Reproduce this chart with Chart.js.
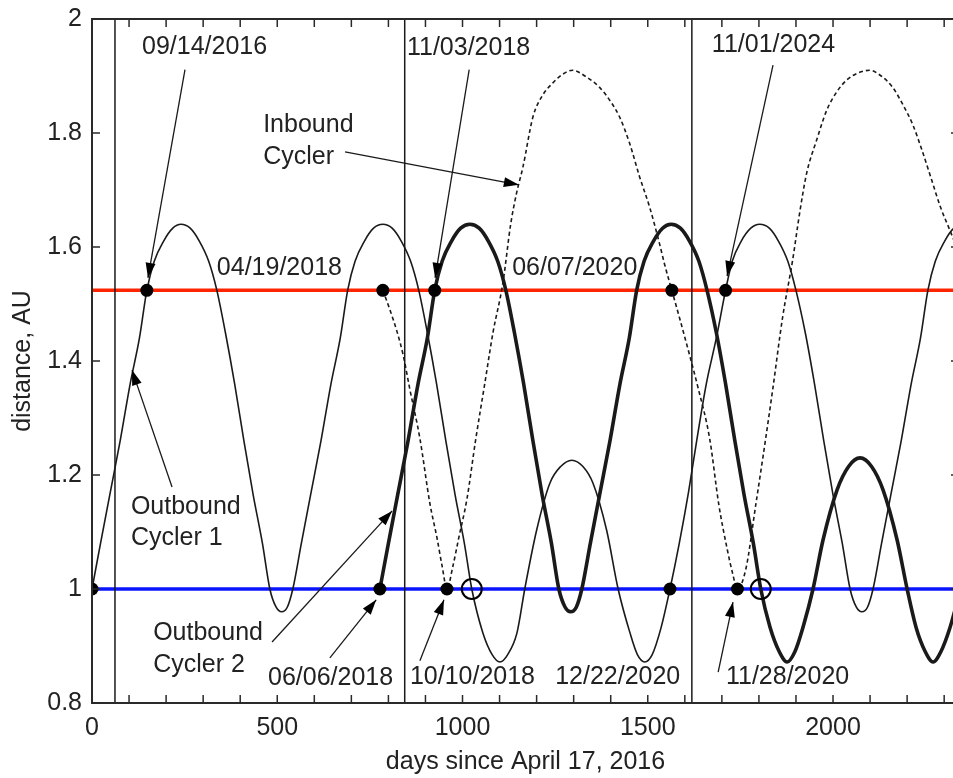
<!DOCTYPE html>
<html>
<head>
<title>Cycler distances</title>
<script src="https://cdn.jsdelivr.net/npm/chart.js"></script>
<style>
  html, body { margin: 0; padding: 0; background: #fff; overflow: hidden; width: 953px; height: 778px; }
  #wrap { width: 953px; height: 778px; overflow: hidden; position: relative; }
  #c { position: absolute; left: 0; top: 0; }
</style>
</head>
<body>
<div id="wrap"><canvas id="c" width="960" height="778"></canvas></div>
<script>
// --- values (days since 2016-04-17, distance in AU) ---
const thinDays = [0, 23, 48, 76, 103, 128, 148, 168, 193, 218, 240, 265, 290, 315, 337, 360, 385, 410, 435, 460, 480, 497, 512, 527, 542, 565, 590, 618, 645, 670, 690, 710, 735, 760, 785, 810, 835, 860, 882, 905, 930, 955, 980, 1005, 1025, 1055, 1080, 1101, 1122, 1147, 1168, 1200, 1236, 1265, 1295, 1325, 1352, 1389, 1420, 1452, 1472, 1492, 1512, 1535, 1560, 1585, 1610, 1632, 1658, 1685, 1710, 1728, 1752, 1778, 1802, 1828, 1853, 1878, 1900, 1925, 1950, 1975, 2000, 2025, 2046, 2063, 2078, 2093, 2108, 2131, 2156, 2184, 2211, 2236, 2256, 2276, 2301, 2326, 2340];
const thinAU   = [1.00, 1.08, 1.165, 1.26, 1.36, 1.44, 1.524, 1.575, 1.61, 1.633, 1.64, 1.633, 1.61, 1.575, 1.524, 1.45, 1.36, 1.26, 1.165, 1.08, 1.00, 0.968, 0.96, 0.968, 1.00, 1.08, 1.165, 1.26, 1.36, 1.44, 1.524, 1.575, 1.61, 1.633, 1.64, 1.633, 1.61, 1.575, 1.524, 1.45, 1.36, 1.26, 1.165, 1.08, 1.00, 0.923, 0.885, 0.872, 0.885, 0.923, 1.00, 1.103, 1.186, 1.215, 1.226, 1.215, 1.186, 1.103, 1.00, 0.923, 0.885, 0.872, 0.885, 0.93, 1.00, 1.08, 1.17, 1.26, 1.36, 1.44, 1.524, 1.575, 1.61, 1.633, 1.64, 1.633, 1.61, 1.575, 1.524, 1.45, 1.36, 1.26, 1.165, 1.08, 1.00, 0.968, 0.96, 0.968, 1.00, 1.08, 1.165, 1.26, 1.36, 1.44, 1.524, 1.575, 1.61, 1.633, 1.637];

const thickDays = [777, 800, 825, 853, 880, 905, 925, 945, 970, 995, 1020, 1045, 1070, 1095, 1117, 1140, 1165, 1190, 1215, 1240, 1260, 1277, 1292, 1307, 1322, 1345, 1370, 1398, 1425, 1450, 1470, 1490, 1515, 1540, 1563, 1588, 1613, 1638, 1660, 1685, 1710, 1735, 1760, 1785, 1805, 1830, 1855, 1876, 1897, 1919, 1946, 1973, 2011, 2042, 2073, 2104, 2135, 2173, 2200, 2224, 2249, 2270, 2291, 2316, 2340];
const thickAU   = [1.00, 1.08, 1.165, 1.26, 1.36, 1.44, 1.524, 1.575, 1.61, 1.633, 1.64, 1.633, 1.61, 1.575, 1.524, 1.45, 1.36, 1.26, 1.165, 1.08, 1.00, 0.968, 0.96, 0.968, 1.00, 1.08, 1.165, 1.26, 1.36, 1.44, 1.524, 1.575, 1.61, 1.633, 1.64, 1.633, 1.61, 1.575, 1.524, 1.45, 1.36, 1.26, 1.165, 1.08, 1.00, 0.933, 0.89, 0.872, 0.89, 0.933, 1.00, 1.086, 1.174, 1.215, 1.23, 1.215, 1.174, 1.086, 1.00, 0.933, 0.89, 0.872, 0.89, 0.933, 0.99];

const dashDays = [785, 804, 823, 840, 858, 885, 912, 931, 945, 958, 974, 990, 1012, 1036, 1060, 1082, 1109, 1130, 1146, 1163, 1190, 1215, 1244, 1270, 1297, 1335, 1370, 1400, 1424, 1451, 1478, 1505, 1532, 1546, 1565, 1586, 1613, 1635, 1667, 1692, 1715, 1728, 1742, 1765, 1792, 1811, 1837, 1864, 1891, 1910, 1929, 1956, 1983, 2010, 2037, 2070, 2099, 2130, 2161, 2190, 2215, 2240, 2265, 2290, 2315, 2340];
const dashAU   = [1.524, 1.49, 1.452, 1.41, 1.35, 1.264, 1.15, 1.09, 1.04, 1.00, 1.04, 1.09, 1.158, 1.264, 1.36, 1.449, 1.537, 1.64, 1.695, 1.74, 1.828, 1.865, 1.888, 1.903, 1.91, 1.898, 1.88, 1.855, 1.828, 1.782, 1.723, 1.67, 1.605, 1.568, 1.524, 1.475, 1.41, 1.355, 1.264, 1.147, 1.068, 1.03, 1.00, 1.036, 1.15, 1.232, 1.349, 1.477, 1.577, 1.66, 1.73, 1.788, 1.84, 1.872, 1.893, 1.906, 1.91, 1.90, 1.88, 1.848, 1.815, 1.77, 1.72, 1.67, 1.63, 1.59];

const marsAU = 1.524;
const earthAU = 1.0;
const eventDays = [62, 844, 1619];

const dotDays = [0, 148, 785, 925, 1565, 1710, 777, 958, 1560, 1742];
const dotAU   = [1.0, 1.524, 1.524, 1.524, 1.524, 1.524, 1.0, 1.0, 1.0, 1.0];
const ringDays = [1025, 1805];
const ringAU   = [1.0, 1.0];

const xTicks = [0, 500, 1000, 1500, 2000];
const yTicks = [0.8, 1, 1.2, 1.4, 1.6, 1.8, 2];

// annotation text: [text, day, AU]  (left edge, vertical middle)
const notes = [
  ['09/14/2016', 135, 1.951], ['11/03/2018', 850, 1.949], ['11/01/2024', 1673, 1.954],
  ['Inbound', 462, 1.814], ['Cycler', 462, 1.758],
  ['04/19/2018', 337, 1.563], ['06/07/2020', 1134, 1.563],
  ['Outbound', 105, 1.144], ['Cycler 1', 105, 1.089],
  ['Outbound', 165, 0.923], ['Cycler 2', 165, 0.867],
  ['06/06/2018', 475, 0.844], ['10/10/2018', 858, 0.846],
  ['12/22/2020', 1250, 0.846], ['11/28/2020', 1711, 0.846]
];
// arrows: [fromDay, fromAU, tipDay, tipAU]
const arrows = [
  [251, 1.911, 151, 1.546], [216, 1.179, 108, 1.384], [683, 1.767, 1152, 1.709],
  [1018, 1.911, 926, 1.546], [1838, 1.919, 1714, 1.549], [486, 0.907, 810, 1.137],
  [642, 0.879, 767, 0.981], [885, 0.874, 950, 0.981], [1690, 0.854, 1730, 0.977]
];

const ink = '#1a1a1a';
const fontFamily = '"Liberation Sans", Arial, sans-serif';
const pts = (xs, ys) => xs.map((v, i) => ({x: v, y: ys[i]}));

const curve = (label, xs, ys, width, dash, order) => ({
  label, data: pts(xs, ys), borderColor: ink, borderWidth: width, borderDash: dash,
  pointRadius: 0, cubicInterpolationMode: 'monotone', fill: false, order
});

const datasets = [
  {label: 'Mars', data: [{x: 0, y: marsAU}, {x: 2340, y: marsAU}], borderColor: '#ff2400', borderWidth: 3.5, pointRadius: 0, order: 9},
  {label: 'Earth', data: [{x: 0, y: earthAU}, {x: 2340, y: earthAU}], borderColor: '#0a14ff', borderWidth: 3.5, pointRadius: 0, order: 9},
  ...eventDays.map(d => ({label: 'event', data: [{x: d, y: 0.8}, {x: d, y: 2}], borderColor: ink, borderWidth: 1.5, pointRadius: 0, order: 8})),
  curve('Inbound Cycler', dashDays, dashAU, 1.6, [4, 3], 5),
  curve('Outbound Cycler 1', thinDays, thinAU, 1.6, [], 4),
  curve('Outbound Cycler 2', thickDays, thickAU, 3.6, [], 3),
  {label: 'encounters', data: pts(dotDays, dotAU), showLine: false, pointRadius: 6.5, pointBackgroundColor: '#000', pointBorderColor: '#000', borderWidth: 0, order: 1},
  {label: 'rings', data: pts(ringDays, ringAU), showLine: false, pointRadius: 10, pointBackgroundColor: 'rgba(0,0,0,0)', pointBorderColor: '#000', pointBorderWidth: 2, order: 1}
];

const frameAndNotes = {
  id: 'frameAndNotes',
  afterDraw(chart) {
    const {ctx, chartArea: a, scales: {x, y}} = chart;
    ctx.save();
    // frame
    ctx.strokeStyle = '#2a2a2a';
    ctx.lineWidth = 2;
    ctx.strokeRect(a.left, a.top, a.right - a.left, a.bottom - a.top);
    // inward ticks
    ctx.lineWidth = 1.5;
    ctx.beginPath();
    for (let d = 100; d < 2340; d += 100) {
      const px = x.getPixelForValue(d);
      ctx.moveTo(px, a.bottom); ctx.lineTo(px, a.bottom - 8);
      ctx.moveTo(px, a.top); ctx.lineTo(px, a.top + 8);
    }
    yTicks.forEach(v => {
      const py = y.getPixelForValue(v);
      ctx.moveTo(a.left, py); ctx.lineTo(a.left + 8, py);
      ctx.moveTo(a.right, py); ctx.lineTo(a.right - 8, py);
    });
    ctx.stroke();

    // arrows
    ctx.strokeStyle = ink;
    ctx.fillStyle = '#000';
    ctx.lineWidth = 1.3;
    arrows.forEach(([d0, r0, d1, r1]) => {
      const x0 = x.getPixelForValue(d0), y0 = y.getPixelForValue(r0);
      const x1 = x.getPixelForValue(d1), y1 = y.getPixelForValue(r1);
      const ang = Math.atan2(y1 - y0, x1 - x0);
      ctx.beginPath();
      ctx.moveTo(x0, y0); ctx.lineTo(x1, y1);
      ctx.stroke();
      const L = 15, W = 5;
      ctx.beginPath();
      ctx.moveTo(x1, y1);
      ctx.lineTo(x1 - L * Math.cos(ang) + W * Math.sin(ang), y1 - L * Math.sin(ang) - W * Math.cos(ang));
      ctx.lineTo(x1 - L * Math.cos(ang) - W * Math.sin(ang), y1 - L * Math.sin(ang) + W * Math.cos(ang));
      ctx.closePath();
      ctx.fill();
    });

    // text notes
    ctx.font = '25px ' + fontFamily;
    ctx.fillStyle = '#222';
    ctx.textAlign = 'left';
    ctx.textBaseline = 'middle';
    notes.forEach(([t, d, r]) => ctx.fillText(t, x.getPixelForValue(d), y.getPixelForValue(r)));
    ctx.restore();
  }
};

// drop the automatic label overhang so the plot box sits where the original does
const noOverhang = s => { s.paddingLeft = 0; s.paddingRight = 0; s.paddingTop = 0; s.paddingBottom = 0; };

new Chart(document.getElementById('c'), {
  type: 'line',
  data: {datasets},
  options: {
    responsive: false,
    animation: false,
    events: [],
    layout: {autoPadding: false, padding: {top: 19, right: 1, left: 0, bottom: 0}},
    plugins: {legend: {display: false}, tooltip: {enabled: false}},
    scales: {
      x: {
        type: 'linear', min: 0, max: 2340,
        afterFit(s) { s.height = 75; noOverhang(s); },
        afterBuildTicks(s) { s.ticks = xTicks.map(v => ({value: v})); },
        grid: {display: false, drawTicks: false},
        border: {display: false},
        ticks: {padding: 10, color: '#222', font: {family: fontFamily, size: 25}, maxRotation: 0, autoSkip: false, callback: v => String(v)},
        title: {display: true, text: 'days since April 17, 2016', color: '#222', font: {family: fontFamily, size: 25}, padding: {top: 0, bottom: 1}}
      },
      y: {
        type: 'linear', min: 0.8, max: 2,
        afterFit(s) { s.width = 92; noOverhang(s); },
        afterBuildTicks(s) { s.ticks = yTicks.map(v => ({value: v})); },
        grid: {display: false, drawTicks: false},
        border: {display: false},
        ticks: {padding: 10, color: '#222', font: {family: fontFamily, size: 25}, callback: v => String(Math.round(v * 10) / 10)},
        title: {display: true, text: 'distance, AU', color: '#222', font: {family: fontFamily, size: 25}, padding: {top: 8, bottom: 0}}
      }
    }
  },
  plugins: [frameAndNotes]
});
</script>
</body>
</html>
